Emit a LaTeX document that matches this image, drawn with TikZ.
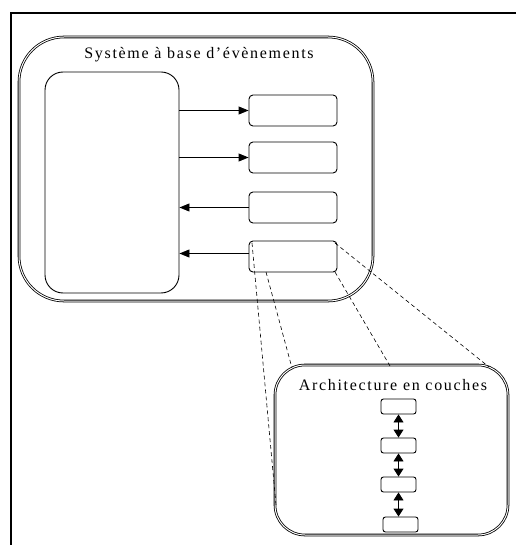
\documentclass[tikz,border=0pt]{standalone}
\usepackage{fontspec}
\setmainfont{Liberation Serif}
\newfontfamily\titlefont[LetterSpace=10.5]{Liberation Serif}
\usetikzlibrary{arrows.meta,calc}
\tikzset{
  dblbox/.style={draw, double, line width=0.8pt, double distance=1pt, rounded corners=#1, inner sep=0pt},
  bigbox/.style={draw, line width=0.9pt, rounded corners=18pt, inner sep=0pt, minimum width=134pt, minimum height=221pt},
  smallbox/.style={draw, line width=0.9pt, rounded corners=4pt, inner sep=0pt, minimum width=88pt, minimum height=31pt},
  layerbox/.style={draw, line width=0.9pt, rounded corners=2.5pt, inner sep=0pt, minimum width=35pt, minimum height=15pt},
  flow/.style={line width=0.9pt, -{Triangle[length=10pt,width=8pt]}},
  bidir/.style={line width=0.9pt, {Triangle[length=8pt,width=10pt]}-{Triangle[length=8pt,width=10pt]}},
  zoomline/.style={dashed, line width=0.6pt, dash pattern=on 4pt off 3pt},
  frameline/.style={line width=1.8pt},
  titletext/.style={font=\titlefont\fontsize{16}{19}\selectfont, inner sep=0pt}
}
\begin{document}
\begin{tikzpicture}[x=1pt,y=-1pt]
\useasboundingbox (0,0) rectangle (516,545);
% frame
\coordinate (ftl) at (11,13);
\coordinate (ftr) at (516,13);
\coordinate (fbl) at (11,545);
\draw[frameline] (ftr) -- (ftl) -- (fbl);
% event system
\node[dblbox=45pt, minimum width=354pt, minimum height=264pt] (sys) at (196,169) {};
\node[titletext] (systitle) at (199,55) {Système à base d’évènements};
\node[bigbox] (big) at (112,182.5) {};
\node[smallbox] (b1) at (293,110.5) {};
\node[smallbox] (b2) at (293,157.5) {};
\node[smallbox] (b3) at (293,207.5) {};
\node[smallbox] (b4) at (293,256.5) {};
\coordinate (b4w) at ([yshift=3pt]b4.west);
\draw[flow] (big.east |- b1.west) -- (b1.west);
\draw[flow] (big.east |- b2.west) -- (b2.west);
\draw[flow] (b3.west) -- (big.east |- b3.west);
\draw[flow] (b4w) -- (big.east |- b4w);
% layered architecture
\node[dblbox=30pt, minimum width=233pt, minimum height=170pt] (arch) at (391.5,450) {};
\node[titletext] (archtitle) at (393,385) {Architecture en couches};
\node[layerbox] (l1) at (398.5,406.5) {};
\node[layerbox] (l2) at (398.5,445.5) {};
\node[layerbox] (l3) at (398.5,484.5) {};
\node[layerbox] (l4) at (400.5,524.5) {};
\draw[bidir] (l1.south) -- (l2.north);
\draw[bidir] (l2.south) -- (l3.north);
\draw[bidir] (l3.south) -- (l3.south |- l4.north);
% zoom lines
\coordinate (z1a) at (252,243);
\coordinate (z2a) at (266,272);
\coordinate (z3a) at (335,272);
\coordinate (z4a) at (335,243);
\coordinate (z1b) at (276,505);
\coordinate (z2b) at (292,368);
\coordinate (z3b) at (390,366);
\coordinate (z4b) at (489,367);
\draw[zoomline] (z1a) -- (z1b);
\draw[zoomline] (z2a) -- (z2b);
\draw[zoomline] (z3a) -- (z3b);
\draw[zoomline] (z4a) -- (z4b);
\end{tikzpicture}
\end{document}
